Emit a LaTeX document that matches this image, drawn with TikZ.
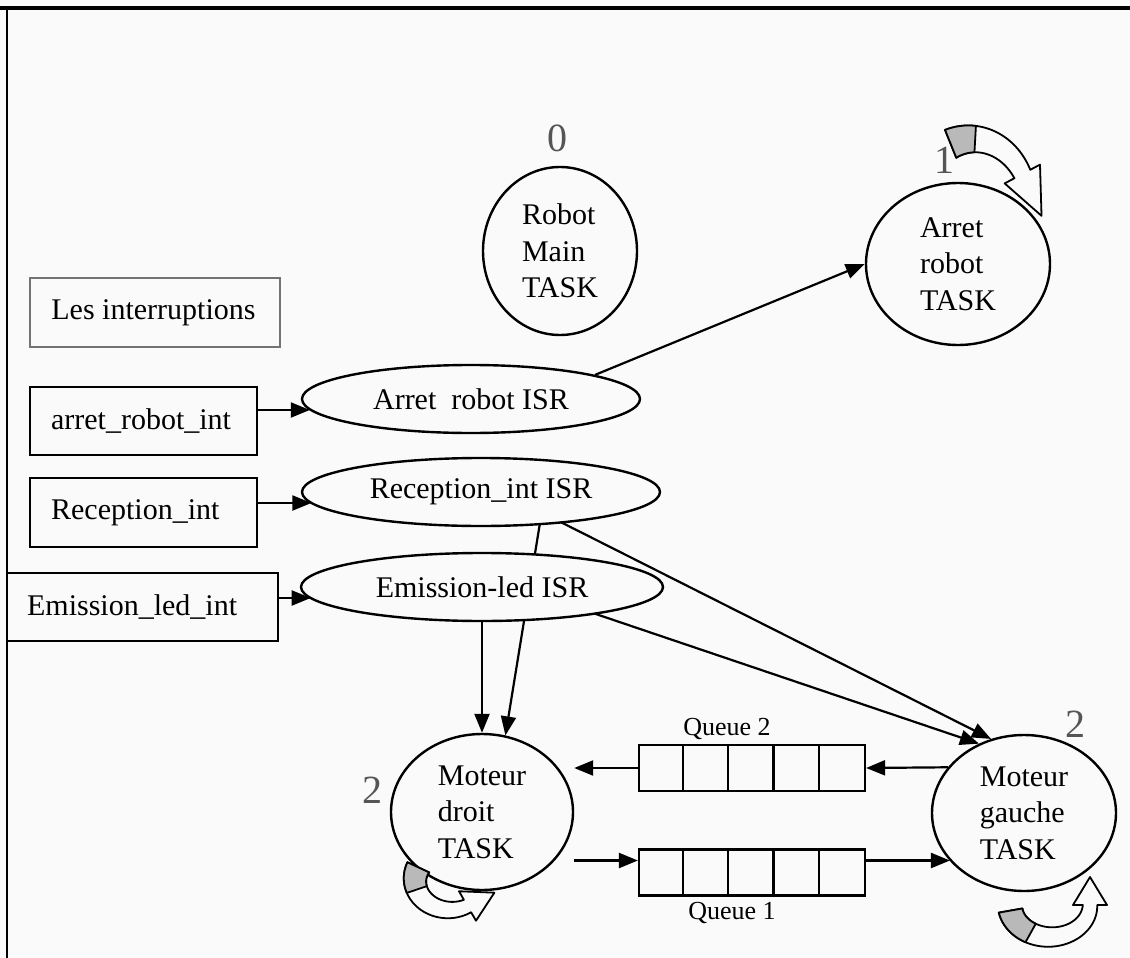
\documentclass[tikz,border=0pt]{standalone}
\usepackage{fontspec}
\setmainfont{Liberation Serif}
\usetikzlibrary{shapes.geometric,arrows.meta,calc}
\pgfdeclarelayer{bglayer}
\pgfdeclarelayer{edgelayer}
\pgfsetlayers{bglayer,edgelayer,main}
\definecolor{bgc}{RGB}{250,250,250}
\definecolor{lab}{RGB}{85,85,85}
\definecolor{loopgrey}{RGB}{185,185,185}
% curved block arrow: cx cy rx ry a1 a2 tailhalfwidth headhalfwidth headlength
\newcommand{\looparrow}[9]{%
 \pgfmathsetmacro\lsgn{sign(#6-#5)}%
 \pgfmathsetmacro\ltx{-#3*sin(#6)*\lsgn}%
 \pgfmathsetmacro\lty{#4*cos(#6)*\lsgn}%
 \pgfmathsetmacro\ltn{sqrt(\ltx*\ltx+\lty*\lty)}%
 \pgfmathsetmacro\lgend{#5+0.3*(#6-#5)}%
 \filldraw[looparr] plot[domain=#5:#6,samples=40] ({#1+(#3+#7*(1-0.4*(\x-#5)/(#6-#5)))*cos(\x)},{#2+(#4+#7*(1-0.4*(\x-#5)/(#6-#5)))*sin(\x)})
  -- ({#1+(#3+#8)*cos(#6)},{#2+(#4+#8)*sin(#6)})
  -- ({#1+#3*cos(#6)+#9*\ltx/\ltn},{#2+#4*sin(#6)+#9*\lty/\ltn})
  -- ({#1+(#3-#8)*cos(#6)},{#2+(#4-#8)*sin(#6)})
  -- plot[domain=#6:#5,samples=40] ({#1+(#3-#7*(1-0.4*(\x-#5)/(#6-#5)))*cos(\x)},{#2+(#4-#7*(1-0.4*(\x-#5)/(#6-#5)))*sin(\x)}) -- cycle;
 \filldraw[looparr,fill=loopgrey] plot[domain=#5:\lgend,samples=12] ({#1+(#3+#7*(1-0.4*(\x-#5)/(#6-#5)))*cos(\x)},{#2+(#4+#7*(1-0.4*(\x-#5)/(#6-#5)))*sin(\x)})
  -- plot[domain=\lgend:#5,samples=12] ({#1+(#3-#7*(1-0.4*(\x-#5)/(#6-#5)))*cos(\x)},{#2+(#4-#7*(1-0.4*(\x-#5)/(#6-#5)))*sin(\x)}) -- cycle;
}
\begin{document}
\begin{tikzpicture}[x=1pt,y=-1pt,
 every node/.style={font=\fontsize{30}{36.5}\selectfont},
 task/.style={ellipse, draw, line width=2.4pt, fill=bgc, inner sep=0pt, align=left},
 isr/.style={ellipse, draw, line width=2.4pt, fill=bgc, inner sep=0pt},
 intbox/.style={rectangle, draw, line width=2.2pt, inner sep=0pt},
 boxtext/.style={anchor=west, inner sep=0pt},
 arr/.style={line width=2.2pt, -{Triangle[length=19pt,width=15pt]}},
 numlab/.style={text=lab, inner sep=0pt, font=\fontsize{40}{40}\selectfont},
 qlab/.style={inner sep=0pt, font=\fontsize{26}{26}\selectfont},
 queue/.style={rectangle, draw, line width=2.2pt, minimum width=226pt, minimum height=46pt, inner sep=0pt},
 looparr/.style={draw=black, fill=bgc, line width=1.8pt, line join=round},
 frameline/.style={line width=2.5pt}]
\useasboundingbox (0,0) rectangle (1130,958);
\begin{pgfonlayer}{bglayer}
 \fill[bgc] (0,0) rectangle (1130,958);
\end{pgfonlayer}
\draw[frameline,line width=3.5pt] (0,8) -- (1130,8);
\draw[frameline] (7,8) -- (7,958);

% tasks
\node[task, minimum width=154pt, minimum height=168pt] (main) at (560,251) {Robot\\Main\\TASK};
\node[task, minimum width=184pt, minimum height=162pt] (artask) at (958,264) {Arret\\robot\\TASK};
\node[task, minimum width=182pt, minimum height=156pt] (mdroit) at (482,812) {Moteur\\droit\\TASK};
\node[task, minimum width=184pt, minimum height=156pt] (mgauche) at (1024,813) {Moteur\\gauche\\TASK};

% ISRs
\node[isr, minimum width=338pt, minimum height=68pt] (arisr) at (471,399) {Arret\ \ robot ISR};
\node[isr, minimum width=358pt, minimum height=68pt] (recisr) at (481,492) {Reception\_int ISR};
\node[isr, minimum width=362pt, minimum height=68pt] (emisr) at (482,587) {Emission-led ISR};

% interrupt boxes
\node[intbox, draw=black!55, line width=1.6pt, minimum width=250pt, minimum height=69pt] (lesint) at (155,312.5) {};
\node[boxtext] (lesintT) at ([xshift=22pt]lesint.west) {Les interruptions};
\node[intbox, minimum width=227pt, minimum height=68pt] (arint) at (143.5,421) {};
\node[boxtext] (arintT) at ([xshift=22pt]arint.west) {arret\_robot\_int};
\node[intbox, minimum width=227pt, minimum height=69pt] (recint) at (143.5,512.5) {};
\node[boxtext] (recintT) at ([xshift=22pt]recint.west) {Reception\_int};
\node[intbox, minimum width=271pt, minimum height=68pt] (emint) at (142.5,607) {};
\node[boxtext] (emintT) at ([xshift=21pt]emint.west) {Emission\_led\_int};

% queues
\node[queue] (q2) at (752,768) {};
\node[queue] (q1) at (752,872.5) {};
\foreach \i in {1,2,3,4} {
 \draw[line width=2.2pt] ($(q2.south west)+(\i*45.2,0)$) -- ($(q2.north west)+(\i*45.2,0)$);
 \draw[line width=2.2pt] ($(q1.south west)+(\i*45.2,0)$) -- ($(q1.north west)+(\i*45.2,0)$);
}
\node[qlab] (q2lab) at (727,729) {Queue 2};
\node[qlab] (q1lab) at (732,913) {Queue 1};

% number labels
\node[numlab] (n0) at (557,138) {0};
\node[numlab] (n1) at (944,160) {1};
\node[numlab] (n2g) at (1075,724) {2};
\node[numlab] (n2d) at (372,790) {2};

% connectors
\begin{pgfonlayer}{edgelayer}
 \coordinate (c1) at ([yshift=11pt]arint.east);
 \draw[arr] (c1) -- (c1 -| arisr.184);
 \coordinate (c2) at ([yshift=9.5pt]recint.east);
 \draw[arr] (c2) -- (c2 -| recisr.184);
 \coordinate (c3) at ([yshift=9pt]emint.east);
 \draw[arr] (c3) -- (c3 -| emisr.184);
 \draw[arr] (arisr.11) -- (artask.west);
 \draw[arr] (emisr.south) -- (mdroit.north);
 \draw[arr] ([xshift=64pt]recisr.center) -- (mdroit.73);
 \draw[arr] ([xshift=20pt]recisr.center) -- (mgauche.114);
 \draw[arr] ([xshift=34pt]emisr.center) -- (mgauche.123);
 \draw[arr] (mgauche.149) -- (q2.east);
 \draw[arr] (q2.west) -- (q2.west -| mdroit.east);
 \coordinate (q1l) at ([yshift=12pt]q1.west);
 \coordinate (q1r) at ([yshift=12pt]q1.east);
 \draw[arr] (q1l -| mdroit.east) -- (q1l);
 \draw[arr] (q1r) -- (q1r -| mgauche.213);
\end{pgfonlayer}

% self-loop curved arrows
\looparrow{972}{205}{57}{66}{-112}{-28}{15}{20}{46}
\looparrow{450}{880}{35}{30}{205}{60}{12}{17}{30}
\looparrow{1050}{905}{40}{32}{170}{0}{12}{17}{28}
\end{tikzpicture}
\end{document}
